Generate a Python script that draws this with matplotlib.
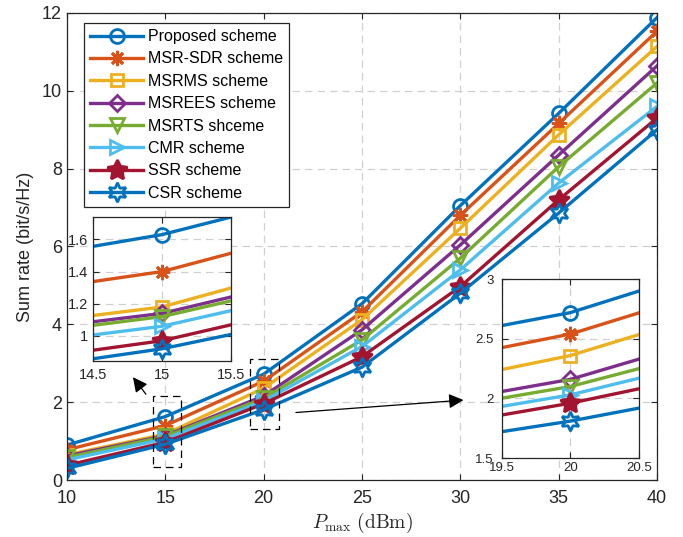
import numpy as np
import matplotlib.pyplot as plt
from matplotlib.patches import Rectangle

plt.rcParams['font.family'] = ['Liberation Sans', 'DejaVu Sans']
plt.rcParams['mathtext.fontset'] = 'cm'

# ---- data
p_max = [10, 15, 20, 25, 30, 35, 40]
proposed = [0.90, 1.63, 2.72, 4.53, 7.05, 9.42, 11.88]
msr_sdr = [0.78, 1.40, 2.54, 4.32, 6.80, 9.16, 11.53]
msrms = [0.65, 1.18, 2.36, 4.12, 6.47, 8.87, 11.14]
msrees = [0.62, 1.14, 2.16, 3.86, 6.04, 8.35, 10.64]
msrts = [0.58, 1.12, 2.10, 3.60, 5.70, 8.05, 10.20]
cmr = [0.52, 1.06, 2.03, 3.43, 5.40, 7.63, 9.60]
ssr = [0.38, 0.97, 1.96, 3.17, 4.97, 7.20, 9.30]
csr = [0.30, 0.92, 1.81, 2.90, 4.80, 6.86, 9.00]

names = ['Proposed scheme', 'MSR-SDR scheme', 'MSRMS scheme', 'MSREES scheme',
         'MSRTS shceme', 'CMR scheme', 'SSR scheme', 'CSR scheme']
series = [proposed, msr_sdr, msrms, msrees, msrts, cmr, ssr, csr]

colors = ['#0072BD', '#D95319', '#EDB120', '#7E2F8E', '#77AC30', '#4DBEEE', '#A2142F', '#0072BD']
markers = ['o', (8, 2, 0), 's', 'D', 'v', '>', (5, 1, 0), (6, 1, 0)]
msizes = [10, 11, 8, 8, 10, 10, 15, 14]
filled = [False, False, False, False, False, False, True, False]

axcol = '#262626'


def draw(ax):
    for y, c, m, ms, f, lab in zip(series, colors, markers, msizes, filled, names):
        ax.plot(p_max, y, color=c, lw=2.4, marker=m, ms=ms, mew=2,
                mfc=c if f else 'none', mec=c, label=lab)


def style(ax, fs, xpad=3.5):
    ax.grid(True, ls=(0, (6, 4)), color='#d0d0d0', lw=0.9)
    ax.set_axisbelow(True)
    ax.tick_params(direction='in', top=True, right=True, labelsize=fs,
                   colors=axcol, length=4, width=0.8)
    ax.tick_params(axis='x', pad=xpad)
    for s in ax.spines.values():
        s.set_color(axcol)
        s.set_linewidth(0.9)


fig = plt.figure(figsize=(6.83, 5.37), dpi=100)
ax = fig.add_axes([0.098, 0.106, 0.864, 0.870])
draw(ax)
style(ax, 13, xpad=7)
ax.set_xlim(10, 40)
ax.set_ylim(0, 12)
ax.set_xticks(p_max)
ax.set_yticks(np.arange(0, 13, 2))
ax.set_xlabel(r'$P_{\max}\ (\mathrm{dBm})$', fontsize=14, color=axcol, labelpad=3)
ax.set_ylabel('Sum rate (bit/s/Hz)', fontsize=13, color=axcol, labelpad=6)

leg = ax.legend(loc='upper left', bbox_to_anchor=(0.015, 0.996), fontsize=11.5,
                handlelength=3.3, labelspacing=0.46, borderpad=0.4,
                handletextpad=0.3, fancybox=False, framealpha=1)
leg.get_frame().set_edgecolor(axcol)
leg.get_frame().set_linewidth(0.9)

# zoom boxes
ax.add_patch(Rectangle((14.4, 0.34), 1.42, 1.82, fill=False, ls=(0, (6, 4)),
                       lw=0.9, ec='k', zorder=5))
ax.add_patch(Rectangle((19.3, 1.30), 1.5, 1.80, fill=False, ls=(0, (6, 4)),
                       lw=0.9, ec='k', zorder=5))
ax.annotate('', xy=(13.27, 2.70), xytext=(14.1, 2.15),
            arrowprops=dict(arrowstyle='-|>', color='k', lw=0.9, mutation_scale=22))
ax.annotate('', xy=(30.3, 2.06), xytext=(21.5, 1.73),
            arrowprops=dict(arrowstyle='-|>', color='k', lw=0.9, mutation_scale=22))

# inset 1
ax1 = fig.add_axes([0.136, 0.328, 0.202, 0.268])
draw(ax1)
style(ax1, 10.5, xpad=5)
ax1.set_xlim(14.5, 15.5)
ax1.set_ylim(0.845, 1.74)
ax1.set_xticks([14.5, 15, 15.5])
ax1.set_xticklabels(['14.5', '15', '15.5'])
ax1.set_yticks([1.0, 1.2, 1.4, 1.6])
ax1.set_yticklabels(['1', '1.2', '1.4', '1.6'])

# inset 2
ax2 = fig.add_axes([0.7345, 0.147, 0.201, 0.333])
draw(ax2)
style(ax2, 9.5, xpad=3)
ax2.set_xlim(19.5, 20.5)
ax2.set_ylim(1.5, 3.0)
ax2.set_xticks([19.5, 20, 20.5])
ax2.set_xticklabels(['19.5', '20', '20.5'])
ax2.set_yticks([1.5, 2.0, 2.5, 3.0])
ax2.set_yticklabels(['1.5', '2', '2.5', '3'])
ax2.tick_params(axis='y', pad=6)

fig.savefig('out.png', dpi=100)
